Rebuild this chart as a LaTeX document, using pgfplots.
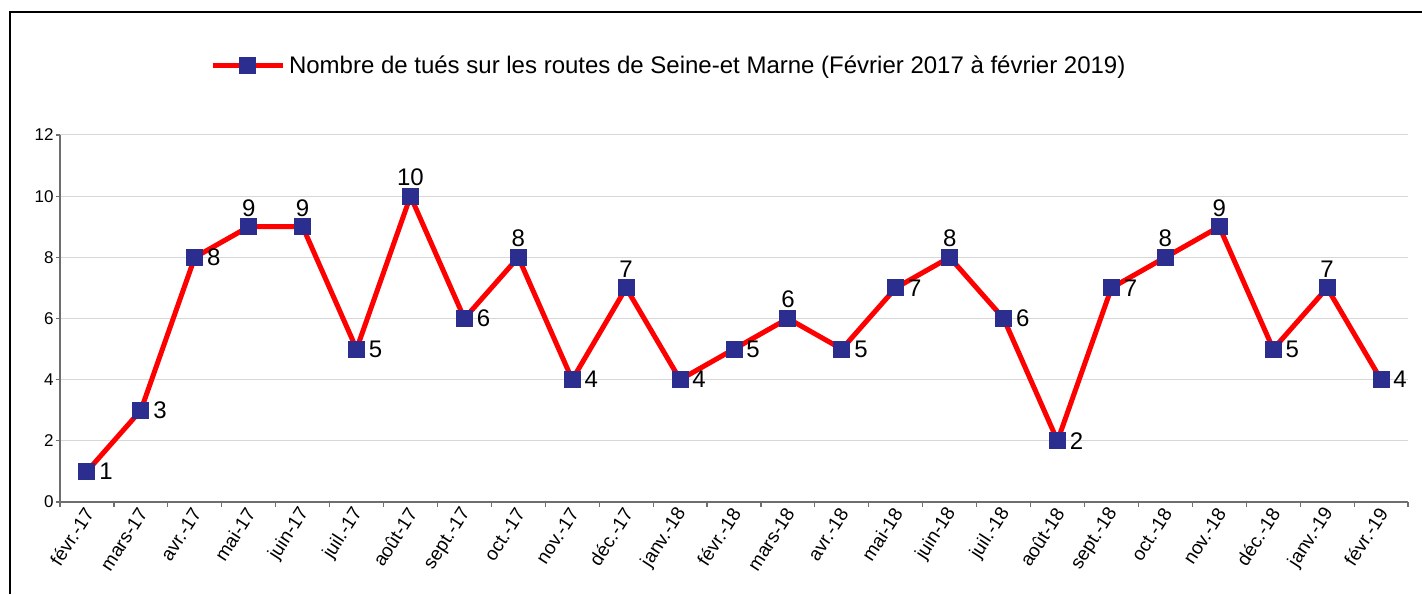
\documentclass[border=0pt]{standalone}
\usepackage{fontspec}
\setmainfont{Liberation Sans}
\usepackage{pgfplots}
\usepackage{pgfplotstable}
\pgfplotsset{compat=1.18}
\definecolor{linered}{RGB}{255,0,0}
\definecolor{marknavy}{RGB}{43,46,143}
\definecolor{gridgray}{RGB}{215,215,215}
\definecolor{axisgray}{RGB}{110,110,110}
\pgfplotstableread{
x y
0 1
1 3
2 8
3 9
4 9
5 5
6 10
7 6
8 8
9 4
10 7
11 4
12 5
13 6
14 5
15 7
16 8
17 6
18 2
19 7
20 8
21 9
22 5
23 7
24 4
}\datatable
\pgfplotstableread{
x y
0 1
1 3
2 8
5 5
7 6
9 4
11 4
12 5
14 5
15 7
17 6
18 2
19 7
22 5
24 4
}\rightlabels
\pgfplotstableread{
x y
3 9
4 9
6 10
8 8
10 7
13 6
16 8
20 8
21 9
23 7
}\abovelabels
\begin{document}
\begin{tikzpicture}
\useasboundingbox (0,0) rectangle (711pt,297pt);
\draw[line width=1pt, black] (5pt,0pt) -- (5pt,291pt) -- (711pt,291pt);
\begin{axis}[
  at={(30pt,46pt)}, anchor=south west,
  width=674pt, height=183.5pt, scale only axis,
  xmin=-0.5, xmax=24.5, ymin=0, ymax=12,
  axis lines=left,
  axis line style={-, draw=axisgray, line width=0.8pt},
  xtick={0,...,24},
  xticklabels={févr.-17,mars-17,avr.-17,mai-17,juin-17,juil.-17,août-17,sept.-17,oct.-17,nov.-17,déc.-17,janv.-18,févr.-18,mars-18,avr.-18,mai-18,juin-18,juil.-18,août-18,sept.-18,oct.-18,nov.-18,déc.-18,janv.-19,févr.-19},
  minor xtick={-0.5,0.5,...,24.5},
  major x tick style={draw=none},
  minor x tick style={draw=axisgray, line width=0.6pt},
  minor tick length=2.5pt,
  ytick={0,2,...,12},
  major y tick style={draw=axisgray, line width=0.6pt},
  major tick length=2pt,
  tick align=outside,
  ymajorgrids,
  grid style={draw=gridgray, line width=0.5pt},
  xticklabel style={rotate=57, anchor=east, font=\fontsize{9.5}{11}\selectfont, inner sep=1pt, yshift=-2pt},
  yticklabel style={font=\fontsize{8.5}{10}\selectfont, inner sep=1pt},
  /pgf/number format/assume math mode=true,
  clip=false,
  legend style={at={(0.111,1.188)}, anchor=west, draw=none, fill=none,
    font=\fontsize{12}{14}\selectfont, inner sep=0pt},
  legend cell align=left,
  legend image code/.code={\draw[#1, mark repeat=2, mark phase=2] plot coordinates {(0pt,0pt) (17.5pt,0pt) (35pt,0pt)};},
]
\addplot[linered, line width=2.5pt, mark=square*, mark size=4pt,
  mark options={draw=marknavy, fill=marknavy, line width=0pt}]
  table[x=x, y=y] {\datatable};
\addlegendentry{Nombre de tués sur les routes de Seine-et Marne (Février 2017 à février 2019)}
\addplot[draw=none, mark=none, forget plot,
  nodes near coords,
  every node near coord/.append style={anchor=west, xshift=5pt,
    font=\fontsize{12}{14}\selectfont, inner sep=1pt, text=black}]
  table[x=x, y=y] {\rightlabels};
\addplot[draw=none, mark=none, forget plot,
  nodes near coords,
  every node near coord/.append style={anchor=south, yshift=4pt,
    font=\fontsize{12}{14}\selectfont, inner sep=1pt, text=black}]
  table[x=x, y=y] {\abovelabels};
\end{axis}
\end{tikzpicture}
\end{document}
